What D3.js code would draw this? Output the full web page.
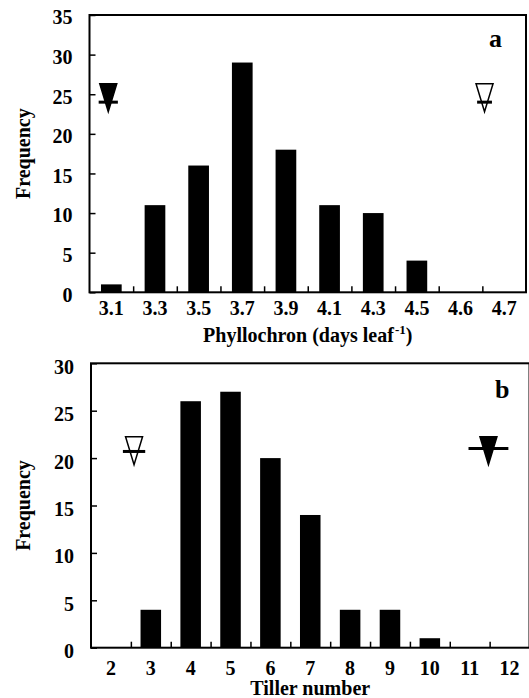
<!doctype html>
<html lang="en">
<head>
  <meta charset="utf-8">
  <title>phyllochron and tiller histograms</title>
<style>
 body{ margin: 0; background: #fff; }
 svg text{ font-family: "Liberation Serif", "Times New Roman", serif; font-weight: bold; fill: #000; }
</style>
</head>
<body>
  <div id="chart"></div>
  <script src="https://d3js.org/d3.v7.min.js"></script>
  <script type="text/javascript">

    // panel a - phyllochron classes
    var phylloCats = ['3.1', '3.3', '3.5', '3.7', '3.9', '4.1', '4.3', '4.5', '4.6', '4.7'];
    var phylloFreq = [1, 11, 16, 29, 18, 11, 10, 4, 0, 0];
    var phylloTicks = [0, 5, 10, 15, 20, 25, 30, 35];
    // arrow markers: position in class units, half width of bar, bar value, arrow tip value
    var phylloMarks = [
      { pos: 0.43, err: 0.22, y: 24, tip: 22.8, filled: true },
      { pos: 9.05, err: 0.17, y: 24, tip: 22.8, filled: false }
    ];

    // panel b - tiller number
    var tillerCats = ['2', '3', '4', '5', '6', '7', '8', '9', '10', '11', '12'];
    var tillerFreq = [0, 4, 26, 27, 20, 14, 4, 4, 1, 0, 0];
    var tillerTicks = [0, 5, 10, 15, 20, 25, 30];
    var tillerMarks = [
      { pos: 1.08, err: 0.28, y: 20.7, tip: 19.3, filled: false },
      { pos: 9.97, err: 0.5, y: 21, tip: 19.3, filled: true }
    ];

    var chartWidth = 529;
    var chartHeight = 698;

    var svg = d3.select('#chart')
      .append('svg')
      .attr('width', chartWidth)
      .attr('height', chartHeight);

    drawPanel({
      cats: phylloCats, freq: phylloFreq, ticks: phylloTicks, marks: phylloMarks,
      left: 89.5, right: 526, top: 15, bottom: 292.3,
      barPad: 0.526, labelPad: 9, yDy: '0.44em',
      letter: 'a', letterX: 489, letterY: 47,
      titleY: 342, title: 'Phyllochron (days leaf', sup: '-1'
    });

    drawPanel({
      cats: tillerCats, freq: tillerFreq, ticks: tillerTicks, marks: tillerMarks,
      left: 91, right: 529.5, top: 363.3, bottom: 647.7,
      barPad: 0.485, labelPad: 13, yDy: '0.5em',
      letter: 'b', letterX: 495, letterY: 398,
      titleY: 695, title: 'Tiller number'
    });

    function drawPanel(p){

      var n = p.cats.length;

      var xscale = d3.scaleBand()
        .domain(p.cats)
        .range([p.left, p.right])
        .paddingInner(p.barPad)
        .paddingOuter(p.barPad / 2);

      // class index scale, for ticks between classes and for markers
      var iscale = d3.scaleLinear()
        .domain([0, n])
        .range([p.left, p.right]);

      var yscale = d3.scaleLinear()
        .domain([0, d3.max(p.ticks)])
        .range([p.bottom, p.top]);

      var g = svg.append('g');

      // bars
      g.selectAll('rect.bar')
        .data(p.freq)
        .enter()
        .append('rect')
        .attr('class', 'bar')
        .attr('x', function(d, i){ return xscale(p.cats[i]); })
        .attr('width', xscale.bandwidth())
        .attr('y', function(d){ return yscale(d); })
        .attr('height', function(d){ return yscale(0) - yscale(d); })
        .attr('fill', '#000');

      // y axis, inward ticks
      var yaxis = d3.axisLeft(yscale)
        .tickValues(p.ticks)
        .tickSizeInner(-6)
        .tickSizeOuter(0)
        .tickPadding(17);

      var yg = g.append('g')
        .attr('transform', 'translate(' + p.left + ',0)')
        .call(yaxis);
      yg.select('.domain').remove();
      yg.selectAll('line').attr('stroke-width', 1.5);
      yg.selectAll('text')
        .attr('dy', p.yDy)
        .attr('font-size', 20)
        .attr('font-family', null);

      // x tick marks between classes
      var tg = g.append('g')
        .attr('transform', 'translate(0,' + p.bottom + ')')
        .call(d3.axisBottom(iscale)
          .tickValues(d3.range(1, n))
          .tickSizeInner(-6)
          .tickSizeOuter(0)
          .tickFormat(''));
      tg.select('.domain').remove();
      tg.selectAll('line').attr('stroke-width', 1.5);

      // x class labels
      var lg = g.append('g')
        .attr('transform', 'translate(0,' + p.bottom + ')')
        .call(d3.axisBottom(xscale).tickSize(0).tickPadding(p.labelPad));
      lg.select('.domain').remove();
      lg.selectAll('text')
        .attr('font-size', 20)
        .attr('font-family', null);

      // frame
      g.append('rect')
        .attr('x', p.left)
        .attr('y', p.top)
        .attr('width', p.right - p.left)
        .attr('height', p.bottom - p.top)
        .attr('fill', 'none')
        .attr('stroke', '#000')
        .attr('stroke-width', 2);

      // arrow markers
      var mk = g.selectAll('g.mark')
        .data(p.marks)
        .enter()
        .append('g')
        .attr('class', 'mark');

      mk.append('path')
        .attr('d', function(d){
          var cx = iscale(d.pos), ty = yscale(d.tip);
          return 'M' + (cx - 8.5) + ',' + (ty - 28) + 'L' + (cx + 8.5) + ',' + (ty - 28) + 'L' + cx + ',' + ty + 'Z';
        })
        .attr('fill', function(d){ return d.filled ? '#000' : '#fff'; })
        .attr('stroke', '#000')
        .attr('stroke-width', 1.5)
        .attr('stroke-linejoin', 'miter');

      mk.append('line')
        .attr('x1', function(d){ return iscale(d.pos - d.err); })
        .attr('x2', function(d){ return iscale(d.pos + d.err); })
        .attr('y1', function(d){ return yscale(d.y); })
        .attr('y2', function(d){ return yscale(d.y); })
        .attr('stroke', '#000')
        .attr('stroke-width', 3);

      // panel letter
      g.append('text')
        .attr('x', p.letterX)
        .attr('y', p.letterY)
        .attr('font-size', 26)
        .text(p.letter);

      // y title
      g.append('text')
        .attr('transform', 'translate(30,' + ((p.top + p.bottom) / 2) + ') rotate(-90)')
        .attr('text-anchor', 'middle')
        .attr('font-size', 20)
        .text('Frequency');

      // x title
      var t = g.append('text')
        .attr('x', (p.left + p.right) / 2)
        .attr('y', p.titleY)
        .attr('text-anchor', 'middle')
        .attr('font-size', 20)
        .text(p.title);
      if (p.sup) {
        t.append('tspan')
          .attr('font-size', 13)
          .attr('dx', 1)
          .attr('dy', -8)
          .text(p.sup);
        t.append('tspan')
          .attr('dy', 8)
          .text(')');
      }
    }

  </script>
</body>
</html>
